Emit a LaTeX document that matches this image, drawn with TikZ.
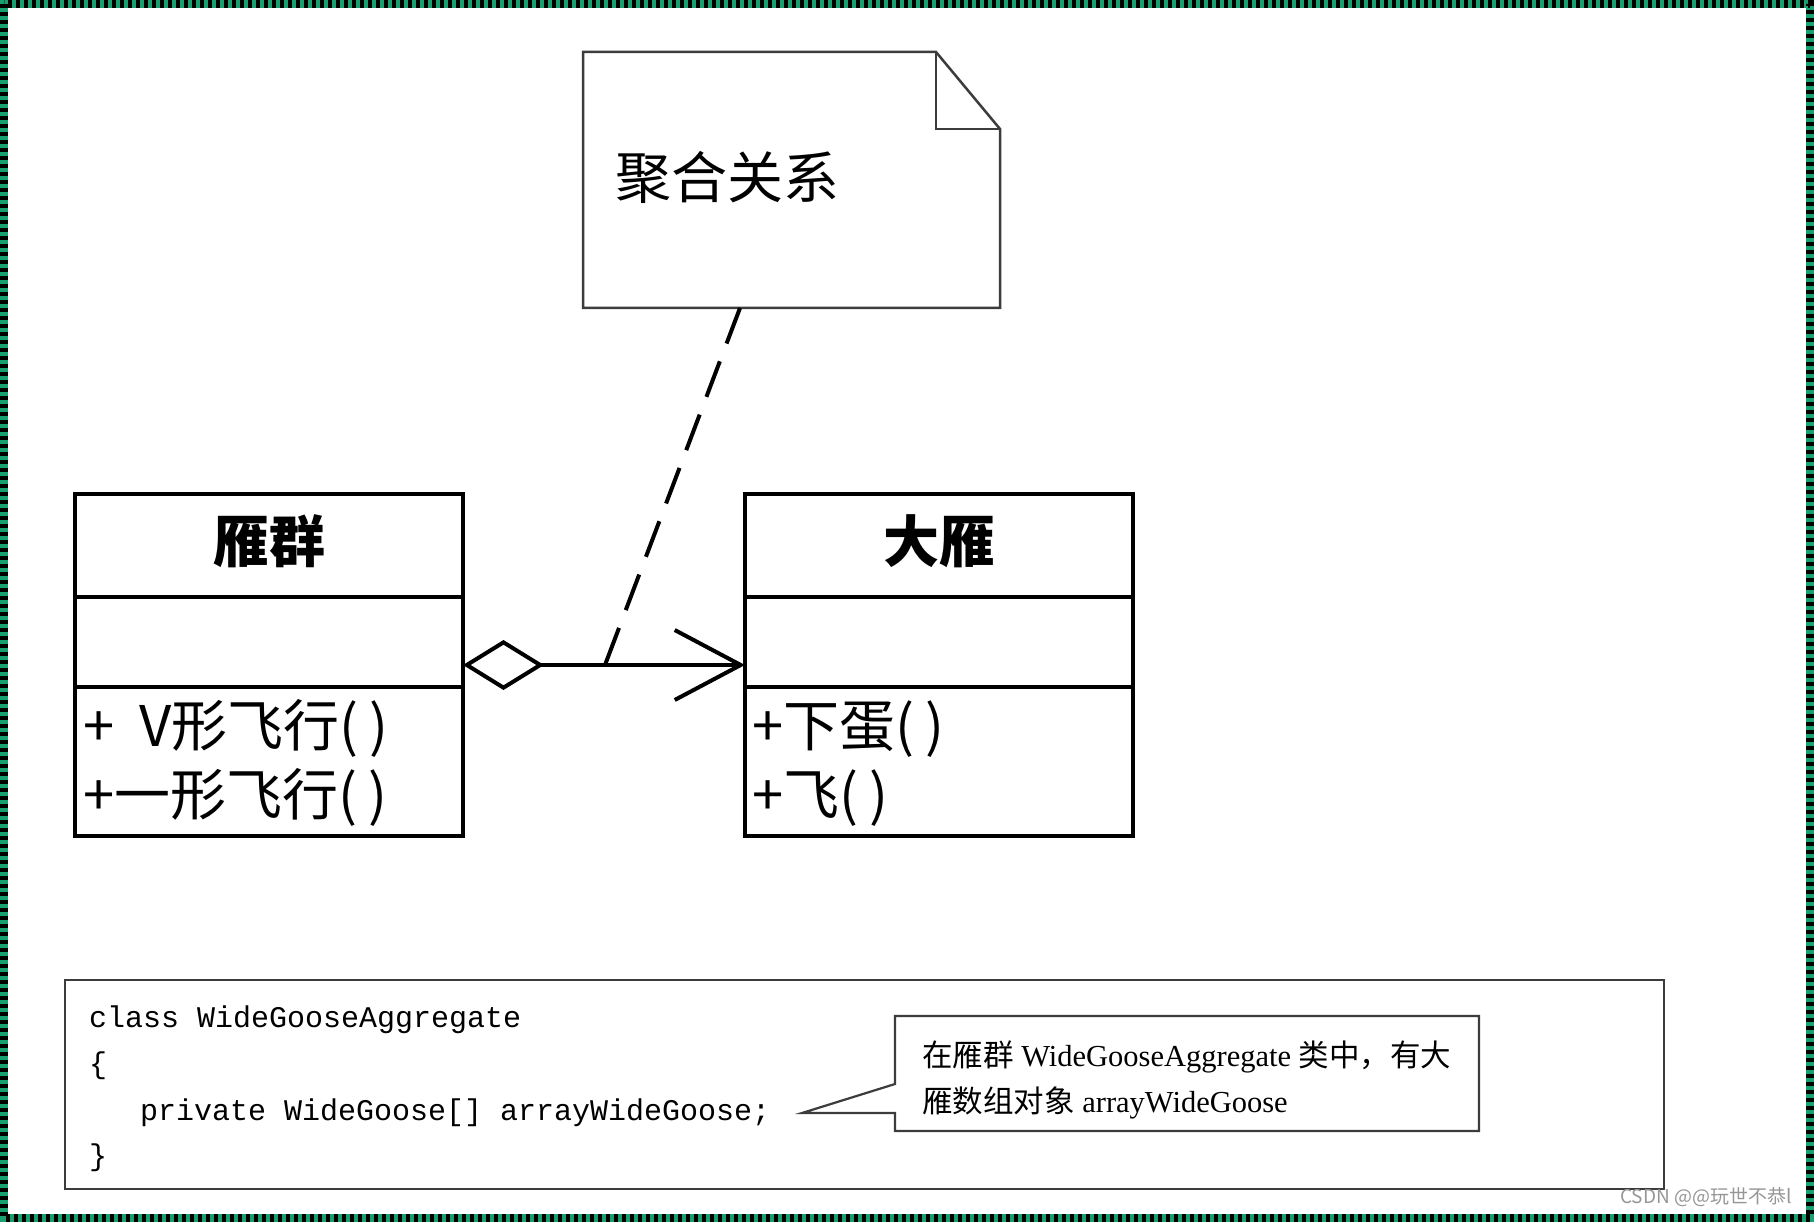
\documentclass[tikz,border=0pt]{standalone}
\usepackage{fontspec}
\setmainfont{Liberation Serif}
\newfontfamily\cjk{Noto Sans CJK SC}
\newfontfamily\monof{Liberation Mono}
\usetikzlibrary{arrows.meta}
\definecolor{framegreen}{RGB}{24,160,110}
\definecolor{linegray}{RGB}{60,60,60}
\definecolor{wmgray}{RGB}{150,150,150}
\newcommand{\prs}{(\hspace{0.2em})}
\begin{document}
\begin{tikzpicture}[x=1pt,y=-1pt,
  classbox/.style={draw, line width=4.5pt, outer sep=0pt, inner sep=0pt, minimum width=388pt, minimum height=342pt},
  divider/.style={line width=4.5pt},
  ctitle/.style={font={\cjk\bfseries\fontsize{56}{60}\selectfont}, anchor=base, inner sep=0pt},
  cmeth/.style={font={\cjk\fontsize{56}{60}\selectfont}, anchor=base west, inner sep=0pt},
  notestyle/.style={draw=linegray, line width=2.5pt, line join=miter},
  dashline/.style={line width=4pt, dash pattern=on 38pt off 19pt},
  codeline/.style={font={\monof\fontsize{30}{36}\selectfont}, anchor=base west, inner sep=0pt},
  calltext/.style={font={\fontsize{30.5}{36}\selectfont}, anchor=base west, inner sep=0pt},
  boxline/.style={draw=linegray, line width=2.2pt}
]
\useasboundingbox (0,0) rectangle (1814,1222);
\fill[white] (0,0) rectangle (1814,1222);
% frame
\draw[framegreen, line width=8pt] (4,4) rectangle (1810,1218);
\draw[black, line width=8pt, dash pattern=on 4pt off 4pt] (4,4) rectangle (1810,1218);

% note
\draw[notestyle] (583,52) -- (936,52) -- (1000,129) -- (1000,308) -- (583,308) -- cycle;
\draw[notestyle] (936,52) -- (936,129) -- (1000,129);
\node[minimum width=417pt, minimum height=256pt, inner sep=0pt] (note) at (791.5,180) {};
\node[anchor=base west, inner sep=0pt, font={\cjk\fontsize{56}{60}\selectfont}] (noteT) at (615,199) {聚合关系};

% classes
\node[classbox] (qun) at (269,665) {};
\node[classbox] (yan) at (939,665) {};
\draw[divider] (75,597) -- (463,597);
\draw[divider] (75,687) -- (463,687);
\draw[divider] (746,597) -- (1132,597);
\draw[divider] (746,687) -- (1132,687);
\node[ctitle] (qunT) at (269,562) {雁群};
\node[ctitle] (yanT) at (939,562) {大雁};
\node[cmeth] (qunM1) at (83,746) {+\hspace{0.45em}V形飞行\prs};
\node[cmeth] (qunM2) at (83,815) {+一形飞行\prs};
\node[cmeth] (yanM1) at (752,746) {+下蛋\prs};
\node[cmeth] (yanM2) at (752,815) {+飞\prs};

% aggregation
\draw[line width=4pt, {Diamond[open,length=81pt,width=50pt]}-{Straight Barb[length=66pt,width=70pt]}] (qun.east) -- (yan.west);

% dashed note link
\coordinate (nb) at (740,308);
\coordinate (lk) at (605,665);
\draw[dashline] (nb) -- (lk);

% code box
\node[boxline, minimum width=1599pt, minimum height=209pt, inner sep=0pt, outer sep=0pt] (code) at (864.5,1084.5) {};
\node[codeline] (c1) at (89,1027) {class WideGooseAggregate};
\node[codeline] (c2) at (89,1073) {\{};
\node[codeline] (c3) at (140,1120) {private WideGoose[] arrayWideGoose;};
\node[codeline] (c4) at (89,1165) {\}};

% callout
\draw[boxline, line join=miter] (895,1084) -- (895,1016) -- (1479,1016) -- (1479,1131) -- (895,1131) -- (895,1113) -- (802,1113) -- cycle;
\node[calltext] (cl1) at (922,1066) {{\cjk 在雁群} WideGooseAggregate {\cjk 类中，有大}};
\node[calltext] (cl2) at (922,1112) {{\cjk 雁数组对象} arrayWideGoose};

% watermark
\node[anchor=west, inner sep=0pt, text=wmgray, font={\cjk\fontsize{19}{21}\selectfont}] (wm) at (1620,1197) {CSDN @@玩世不恭l};
\end{tikzpicture}
\end{document}
